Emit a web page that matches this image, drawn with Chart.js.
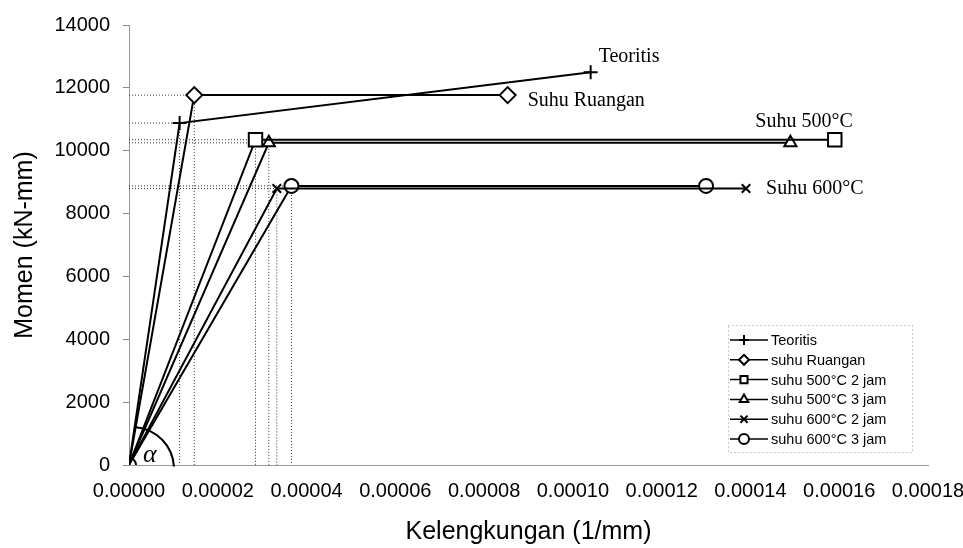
<!DOCTYPE html>
<html>
<head>
<meta charset="utf-8">
<script src="https://cdn.jsdelivr.net/npm/chart.js@4.4.1/dist/chart.umd.min.js"></script>
<style>
  html, body { margin: 0; background: #fff; }
  #wrap { width: 963px; height: 548px; }
</style>
</head>
<body>
<div id="wrap"><canvas id="chart"></canvas></div>
<script>
// curvature (1/mm) vs moment (kN-mm)
const seriesNames = ['Teoritis', 'suhu Ruangan', 'suhu 500°C 2 jam', 'suhu 500°C 3 jam', 'suhu 600°C 2 jam', 'suhu 600°C 3 jam'];
const curvTeoritis = [0, 0.0000114, 0.000104];
const momTeoritis  = [0, 10880, 12500];
const curvRuangan  = [0, 0.0000147, 0.0000853];
const momRuangan   = [0, 11770, 11770];
const curv500_2    = [0, 0.0000285, 0.000159];
const mom500_2     = [0, 10350, 10350];
const curv500_3    = [0, 0.0000315, 0.000149];
const mom500_3     = [0, 10250, 10250];
const curv600_2    = [0, 0.0000333, 0.000139];
const mom600_2     = [0, 8800, 8800];
const curv600_3    = [0, 0.0000366, 0.000130];
const mom600_3     = [0, 8880, 8880];
const endLabels = ['Teoritis', 'Suhu Ruangan', 'Suhu 500°C', null, 'Suhu 600°C', null];

const xTicks = [0, 0.00002, 0.00004, 0.00006, 0.00008, 0.00010, 0.00012, 0.00014, 0.00016, 0.00018];
const yTicks = [0, 2000, 4000, 6000, 8000, 10000, 12000, 14000];

const curvs = [curvTeoritis, curvRuangan, curv500_2, curv500_3, curv600_2, curv600_3];
const moms  = [momTeoritis, momRuangan, mom500_2, mom500_3, mom600_2, mom600_3];

// marker look per series
const styles = [
  { pointStyle: 'cross',    radius: 7 },
  { pointStyle: 'rectRot',  radius: 8 },
  { pointStyle: 'rect',     radius: 9.5 },
  { pointStyle: 'triangle', radius: 7 },
  { pointStyle: 'crossRot', radius: 6 },
  { pointStyle: 'circle',   radius: 7 }
];
// where the end labels sit relative to the last point
const labelOffsets = [
  { dx: 8,  dy: -15, align: 'left' },
  { dx: 20, dy: 6,   align: 'left' },
  { dx: 18, dy: -18, align: 'right' },
  null,
  { dx: 20, dy: 0,   align: 'left' },
  null
];

const SANS = '"Liberation Sans", Arial, sans-serif';
const SERIF = '"Liberation Serif", "Times New Roman", serif';

const datasets = seriesNames.map((name, i) => ({
  label: name,
  data: curvs[i].map((c, j) => ({ x: c, y: moms[i][j] })),
  borderColor: '#000',
  borderWidth: 2,
  pointStyle: styles[i].pointStyle,
  // origin markers are hidden except the circle one, as in the figure
  pointRadius: curvs[i].map((c, j) => (j === 0 && i !== 5) ? 0 : styles[i].radius),
  pointBackgroundColor: '#fff',
  pointBorderColor: '#000',
  pointBorderWidth: 2,
  tension: 0,
  fill: false
}));

// dotted guide lines from the yield points back to both axes
const guides = {
  id: 'guides',
  beforeDatasetsDraw(chart) {
    const { ctx, chartArea } = chart;
    ctx.save();
    ctx.strokeStyle = '#333';
    ctx.lineWidth = 1;
    ctx.setLineDash([1, 2]);
    chart.data.datasets.forEach((ds, i) => {
      const p = chart.getDatasetMeta(i).data[1];
      ctx.beginPath();
      ctx.moveTo(chartArea.left, p.y);
      ctx.lineTo(p.x, p.y);
      ctx.moveTo(p.x, p.y);
      ctx.lineTo(p.x, chartArea.bottom);
      ctx.stroke();
    });
    ctx.restore();
  }
};

// series names at the line ends, and the alpha angle at the origin
const annotations = {
  id: 'annotations',
  afterDatasetsDraw(chart) {
    const { ctx } = chart;
    ctx.save();
    ctx.fillStyle = '#000';
    ctx.font = '20px ' + SERIF;
    ctx.textBaseline = 'middle';
    endLabels.forEach((txt, i) => {
      if (!txt) return;
      const pts = chart.getDatasetMeta(i).data;
      const p = pts[pts.length - 1];
      const o = labelOffsets[i];
      ctx.textAlign = o.align;
      ctx.fillText(txt, p.x + o.dx, p.y + o.dy);
    });

    const x0 = chart.scales.x.getPixelForValue(0);
    const y0 = chart.scales.y.getPixelForValue(0);
    ctx.strokeStyle = '#000';
    ctx.lineWidth = 2;
    ctx.beginPath();
    ctx.arc(x0 + 3, y0 + 4, 42, -Math.PI * 0.47, -0.06);
    ctx.stroke();
    ctx.font = 'italic 26px ' + SERIF;
    ctx.textAlign = 'left';
    ctx.fillText('α', x0 + 14, y0 - 10);
    ctx.restore();
  }
};

// legend box drawn inside the plot, lower right
const boxLegend = {
  id: 'boxLegend',
  afterDraw(chart) {
    const { ctx, chartArea } = chart;
    const w = 184, h = 127;
    const left = chartArea.right - 16 - w;
    const top = chartArea.bottom - 13 - h;
    ctx.save();
    ctx.strokeStyle = '#999';
    ctx.lineWidth = 1;
    ctx.setLineDash([1, 3]);
    ctx.strokeRect(left + 0.5, top + 0.5, w, h);
    ctx.setLineDash([]);
    ctx.font = '14.5px ' + SANS;
    ctx.textAlign = 'left';
    ctx.textBaseline = 'middle';
    chart.data.datasets.forEach((ds, i) => {
      const y = top + 15 + i * 19.8;
      ctx.strokeStyle = '#000';
      ctx.lineWidth = 1.5;
      ctx.beginPath();
      ctx.moveTo(left + 2, y);
      ctx.lineTo(left + 40, y);
      ctx.stroke();
      ctx.fillStyle = '#fff';
      ctx.lineWidth = 2;
      Chart.helpers.drawPoint(ctx, { pointStyle: ds.pointStyle, radius: 5, rotation: 0, borderWidth: 2 }, left + 16, y);
      ctx.fillStyle = '#000';
      ctx.fillText(ds.label, left + 43, y + 1);
    });
    ctx.restore();
  }
};

new Chart(document.getElementById('chart'), {
  type: 'scatter',
  data: { datasets },
  plugins: [guides, annotations, boxLegend],
  options: {
    responsive: true,
    maintainAspectRatio: false,
    animation: false,
    showLine: true,
    layout: { padding: { top: 25, right: 35, left: 0, bottom: 0 } },
    plugins: {
      legend: { display: false },
      tooltip: { enabled: false }
    },
    scales: {
      x: {
        type: 'linear',
        min: 0,
        max: 0.00018,
        afterFit(s) { s.height = 83; s.paddingRight = 0; s.paddingLeft = 0; },
        afterBuildTicks(s) { s.ticks = xTicks.map(v => ({ value: v })); },
        ticks: {
          color: '#000',
          padding: 14,
          maxRotation: 0,
          font: { family: SANS, size: 20 },
          callback: v => v.toFixed(5)
        },
        grid: { display: false, tickLength: 0 },
        border: { display: true, color: '#999', dash: [3, 3], width: 1 },
        title: {
          display: true,
          text: 'Kelengkungan (1/mm)',
          color: '#000',
          font: { family: SANS, size: 25, lineHeight: 1.2 },
          padding: { top: 0, bottom: 1 }
        }
      },
      y: {
        type: 'linear',
        min: 0,
        max: 14000,
        afterFit(s) { s.width = 129; },
        afterBuildTicks(s) { s.ticks = yTicks.map(v => ({ value: v })); },
        ticks: {
          color: '#000',
          padding: 13,
          font: { family: SANS, size: 20 },
          callback: v => String(v)
        },
        grid: { display: true, drawOnChartArea: false, drawTicks: true, tickLength: 6, color: '#888' },
        border: { display: true, color: '#999', dash: [3, 3], width: 1 },
        title: {
          display: true,
          text: 'Momen (kN-mm)',
          color: '#000',
          font: { family: SANS, size: 25, lineHeight: 1.2 },
          padding: { top: 10, bottom: 0 }
        }
      }
    }
  }
});
</script>
</body>
</html>
